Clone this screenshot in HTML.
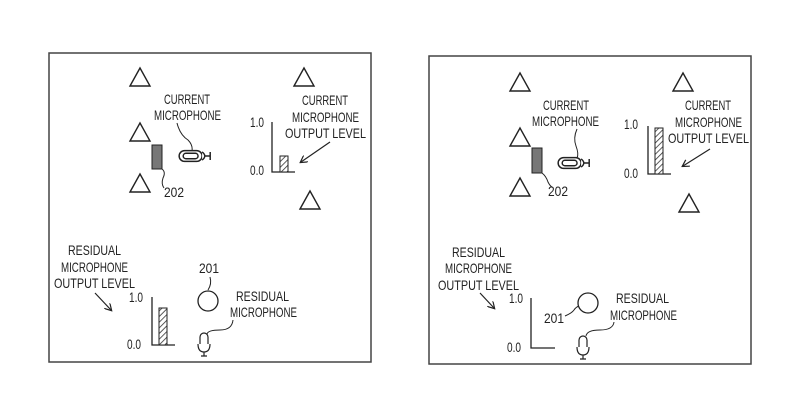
<!DOCTYPE html>
<html><head><meta charset="utf-8"><style>
html,body{margin:0;padding:0;background:#fff;width:800px;height:420px;overflow:hidden}
text{font-family:"Liberation Sans",sans-serif;font-size:14px;fill:#222}
</style></head><body>
<svg width="800" height="420" viewBox="0 0 800 420" xmlns="http://www.w3.org/2000/svg">
<defs>
<pattern id="h" width="4" height="4" patternUnits="userSpaceOnUse" patternTransform="rotate(45)">
<rect width="4" height="4" fill="#fff"/><line x1="0" y1="0" x2="0" y2="4" stroke="#333" stroke-width="1.6"/></pattern>
<marker id="a" markerWidth="8" markerHeight="8" refX="6" refY="4" orient="auto" markerUnits="userSpaceOnUse"><path d="M0,0 L7,4 L0,8" fill="none" stroke="#222" stroke-width="1.2"/></marker>
<g id="tri"><path d="M-10,9 L0,-9 L10,9 Z" fill="#fff" stroke="#222" stroke-width="1.4"/></g>
<g id="hmic" fill="#fff" stroke="#222" stroke-width="1.1" transform="scale(1.35)"><rect x="-11" y="-4" width="17" height="8" rx="4"/><rect x="-8" y="-2" width="11" height="4" rx="2"/><path d="M6,-3 Q10,0 6,3 M8,0 H12 M12,-3 V3"/></g>
<g id="vmic" fill="#fff" stroke="#222" stroke-width="1.2"><rect x="-4" y="-9" width="8" height="15" rx="4"/><path d="M-6,2 Q-6,10 0,10 Q6,10 6,2 M0,10 V14 M-3,14 H3"/></g>
</defs>
<g fill="none" stroke="#444" stroke-width="1.5"><rect x="49" y="53" width="322" height="309"/><rect x="429" y="56" width="322" height="308"/></g>

<g lengthAdjust="spacingAndGlyphs">
<!-- LEFT -->
<use href="#tri" x="140" y="77"/><use href="#tri" x="304" y="77"/><use href="#tri" x="140" y="132"/><use href="#tri" x="140" y="183"/><use href="#tri" x="310" y="200"/>
<text x="164" y="104" textLength="46" lengthAdjust="spacingAndGlyphs">CURRENT</text><text x="154" y="120" textLength="67" lengthAdjust="spacingAndGlyphs">MICROPHONE</text>
<path d="M177,123 Q180,135 188,140 Q193,145 192,151" fill="none" stroke="#222"/>
<use href="#hmic" x="194" y="156"/>
<rect x="152" y="145" width="10" height="24" fill="#777" stroke="#222"/>
<path d="M162,169 Q166,172 163,178 Q161,184 164,188" fill="none" stroke="#222"/>
<text x="164" y="197" textLength="20" lengthAdjust="spacingAndGlyphs">202</text>
<text x="250" y="127" textLength="14" lengthAdjust="spacingAndGlyphs">1.0</text><text x="250" y="175" textLength="14" lengthAdjust="spacingAndGlyphs">0.0</text>
<path d="M272,122 V172 H295" fill="none" stroke="#222" stroke-width="1.3"/>
<rect x="280" y="156" width="8" height="16" fill="url(#h)" stroke="#222"/>
<text x="302" y="105" textLength="46" lengthAdjust="spacingAndGlyphs">CURRENT</text><text x="292" y="122" textLength="67" lengthAdjust="spacingAndGlyphs">MICROPHONE</text><text x="285" y="138" textLength="81" lengthAdjust="spacingAndGlyphs">OUTPUT LEVEL</text>
<line x1="330" y1="142" x2="301" y2="162" stroke="#222" stroke-width="1.2" marker-end="url(#a)"/>
<text x="68" y="255" textLength="53" lengthAdjust="spacingAndGlyphs">RESIDUAL</text><text x="61" y="272" textLength="67" lengthAdjust="spacingAndGlyphs">MICROPHONE</text><text x="54" y="288" textLength="81" lengthAdjust="spacingAndGlyphs">OUTPUT LEVEL</text>
<line x1="95" y1="293" x2="111" y2="310" stroke="#222" stroke-width="1.2" marker-end="url(#a)"/>
<text x="129" y="302" textLength="14" lengthAdjust="spacingAndGlyphs">1.0</text><text x="127" y="349" textLength="14" lengthAdjust="spacingAndGlyphs">0.0</text>
<path d="M152,297 V345 H175" fill="none" stroke="#222" stroke-width="1.3"/>
<rect x="159" y="308" width="8" height="37" fill="url(#h)" stroke="#222"/>
<text x="199" y="273" textLength="20" lengthAdjust="spacingAndGlyphs">201</text>
<path d="M210,277 Q212,284 208,290" fill="none" stroke="#222"/>
<circle cx="208" cy="301" r="10" fill="#fff" stroke="#222" stroke-width="1.3"/>
<text x="236" y="301" textLength="53" lengthAdjust="spacingAndGlyphs">RESIDUAL</text><text x="230" y="317" textLength="67" lengthAdjust="spacingAndGlyphs">MICROPHONE</text>
<path d="M233,320 Q232,330 220,330 Q208,330 207,334" fill="none" stroke="#222"/>
<use href="#vmic" x="204" y="342"/>

<!-- RIGHT -->
<use href="#tri" x="520" y="82"/><use href="#tri" x="683" y="82"/><use href="#tri" x="520" y="137"/><use href="#tri" x="520" y="187"/><use href="#tri" x="689" y="203"/>
<text x="543" y="110" textLength="46" lengthAdjust="spacingAndGlyphs">CURRENT</text><text x="532" y="126" textLength="67" lengthAdjust="spacingAndGlyphs">MICROPHONE</text>
<path d="M577,129 Q573,138 576,146 Q579,154 577,158" fill="none" stroke="#222"/>
<use href="#hmic" x="573" y="163"/>
<rect x="532" y="148" width="10" height="25" fill="#777" stroke="#222"/>
<path d="M542,173 Q546,176 548,182 Q550,186 552,187" fill="none" stroke="#222"/>
<text x="548" y="196" textLength="20" lengthAdjust="spacingAndGlyphs">202</text>
<text x="624" y="129" textLength="14" lengthAdjust="spacingAndGlyphs">1.0</text><text x="624" y="178" textLength="14" lengthAdjust="spacingAndGlyphs">0.0</text>
<path d="M648,126 V174 H671" fill="none" stroke="#222" stroke-width="1.3"/>
<rect x="655" y="128" width="8" height="46" fill="url(#h)" stroke="#222"/>
<text x="685" y="110" textLength="46" lengthAdjust="spacingAndGlyphs">CURRENT</text><text x="675" y="127" textLength="67" lengthAdjust="spacingAndGlyphs">MICROPHONE</text><text x="668" y="143" textLength="81" lengthAdjust="spacingAndGlyphs">OUTPUT LEVEL</text>
<line x1="710" y1="149" x2="683" y2="166" stroke="#222" stroke-width="1.2" marker-end="url(#a)"/>
<text x="452" y="257" textLength="53" lengthAdjust="spacingAndGlyphs">RESIDUAL</text><text x="445" y="273" textLength="67" lengthAdjust="spacingAndGlyphs">MICROPHONE</text><text x="438" y="290" textLength="81" lengthAdjust="spacingAndGlyphs">OUTPUT LEVEL</text>
<line x1="480" y1="293" x2="494" y2="308" stroke="#222" stroke-width="1.2" marker-end="url(#a)"/>
<text x="509" y="303" textLength="14" lengthAdjust="spacingAndGlyphs">1.0</text><text x="507" y="352" textLength="14" lengthAdjust="spacingAndGlyphs">0.0</text>
<path d="M531,298 V348 H555" fill="none" stroke="#222" stroke-width="1.3"/>
<circle cx="588" cy="303" r="10" fill="#fff" stroke="#222" stroke-width="1.3"/>
<text x="544" y="323" textLength="20" lengthAdjust="spacingAndGlyphs">201</text>
<path d="M565,316 Q572,313 574,310 Q576,307 579,306" fill="none" stroke="#222"/>
<text x="616" y="303" textLength="53" lengthAdjust="spacingAndGlyphs">RESIDUAL</text><text x="610" y="320" textLength="67" lengthAdjust="spacingAndGlyphs">MICROPHONE</text>
<path d="M614,322 Q613,330 600,330 Q587,330 586,336" fill="none" stroke="#222"/>
<use href="#vmic" x="583" y="345"/>
</g>
</svg>
</body></html>
